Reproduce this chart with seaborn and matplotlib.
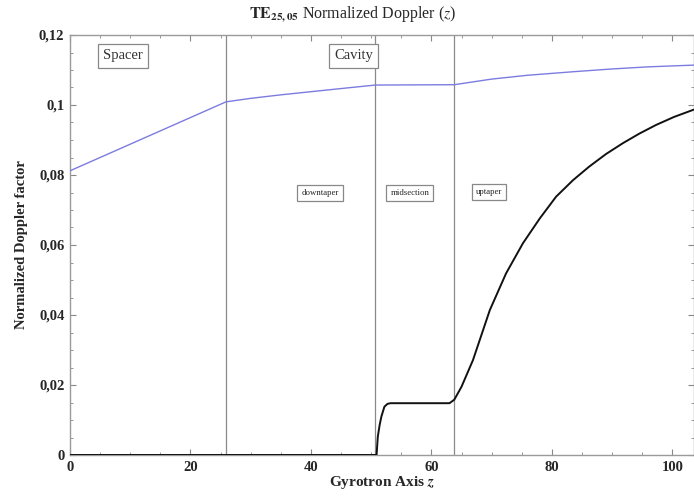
import matplotlib
matplotlib.use("Agg")
import matplotlib.pyplot as plt
from matplotlib.ticker import MultipleLocator, FuncFormatter
import seaborn as sns
import pandas as pd

# Normalized Doppler factor along the gyrotron axis
beam_z = [0, 25.9, 30, 35, 40, 45, 50.7, 63.8, 70, 76, 83.5, 90, 96, 103.6]
beam_doppler = [0.0812, 0.1009, 0.1019, 0.1029, 0.1038, 0.1047, 0.1057, 0.1058,
                0.1074, 0.1085, 0.1095, 0.1103, 0.1109, 0.1114]

field_z = [0, 50.9, 51.1, 51.4, 51.7, 52.2, 52.7, 53.2, 63.0, 63.8, 65.0, 66.9,
           69.7, 72.4, 75.2, 78.0, 80.7, 83.5, 86.2, 89.0, 91.8, 94.5, 97.3,
           100.3, 103.6]
field_doppler = [0, 0, 0.0052, 0.0085, 0.0110, 0.0138, 0.0146, 0.0148, 0.0148,
                 0.0158, 0.0195, 0.0271, 0.0414, 0.0519, 0.0605, 0.0676, 0.0738,
                 0.0785, 0.0824, 0.0860, 0.0891, 0.0918, 0.0943, 0.0966, 0.0987]

section_bounds = [25.9, 50.7, 63.8]
region_labels = ["Spacer", "Cavity"]
region_pos = [(8.8, 0.1140), (47.1, 0.1140)]
section_labels = ["downtaper", "midsection", "uptaper"]
section_pos = [(41.5, 0.0749), (56.4, 0.0749), (69.5, 0.0751)]

sns.set_style("ticks")
plt.rcParams["font.family"] = ["Liberation Serif", "DejaVu Serif"]
plt.rcParams["mathtext.fontset"] = "stix"

fig = plt.figure(figsize=(6.94, 4.97), dpi=100)
ax = fig.add_axes([70 / 694, 1 - 455 / 497, 624 / 694, 420 / 497])

for zb in section_bounds:
    ax.axvline(zb, color="#8a8a8a", lw=0.9, zorder=1)

beam_df = pd.DataFrame({"z": beam_z, "v": beam_doppler})
field_df = pd.DataFrame({"z": field_z, "v": field_doppler})
sns.lineplot(data=beam_df, x="z", y="v", sort=False, estimator=None,
             color="#7c7ce0", lw=1.0, ax=ax, zorder=3)
sns.lineplot(data=field_df, x="z", y="v", sort=False, estimator=None,
             color="#111111", lw=1.4, ax=ax, zorder=4)

ax.set_xlim(0, 103.6)
ax.set_ylim(0, 0.12)
ax.xaxis.set_major_locator(MultipleLocator(20))
ax.xaxis.set_minor_locator(MultipleLocator(5))
ax.yaxis.set_major_locator(MultipleLocator(0.02))
ax.yaxis.set_minor_locator(MultipleLocator(0.005))
fmt = FuncFormatter(lambda v, p: ("%g" % round(v, 4)).replace(".", ","))
ax.xaxis.set_major_formatter(fmt)
ax.yaxis.set_major_formatter(fmt)
ax.tick_params(which="both", direction="in", top=True, right=True,
               color="#888888")
ax.tick_params(which="major", length=4, labelsize=10.5, pad=4)
ax.tick_params(which="minor", length=2.5)
for lbl in ax.get_xticklabels() + ax.get_yticklabels():
    lbl.set_fontweight("bold")
for sp in ax.spines.values():
    sp.set_color("#9a9a9a")
    sp.set_linewidth(1.0)

ax.set_xlabel(r"Gyrotron Axis $\boldsymbol{z}$", fontsize=11, fontweight="bold",
              labelpad=0)
ax.set_ylabel("Normalized Doppler factor", fontsize=10.5, fontweight="bold",
              labelpad=8)

fig.text(353 / 694, 1 - 14 / 497,
         r"$\mathbf{TE}_{\mathbf{25,05}}$ Normalized Doppler ($z$)",
         ha="center", va="center", fontsize=11.5)

for txt, (x, y) in zip(region_labels, region_pos):
    ax.text(x, y, txt, ha="center", va="center", fontsize=10.5, color="#333333",
            bbox=dict(boxstyle="square,pad=0.35", fc="white", ec="#888888", lw=0.9))
for txt, (x, y) in zip(section_labels, section_pos):
    ax.text(x, y, txt, ha="center", va="center", fontsize=6.3, color="#222222",
            bbox=dict(boxstyle="square,pad=0.45", fc="white", ec="#888888", lw=0.9))

fig.savefig("out.png", dpi=100)
